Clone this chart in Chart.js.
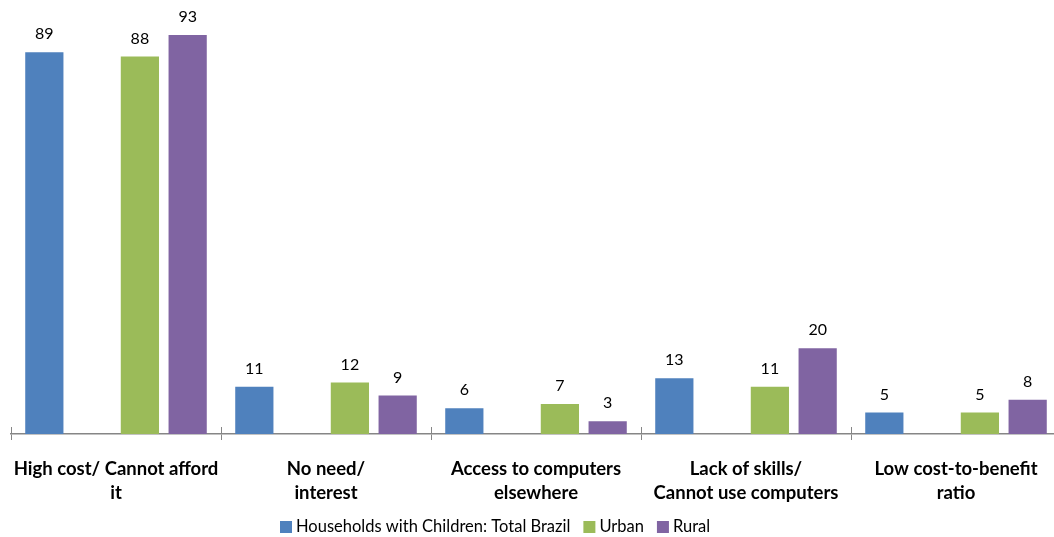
<!DOCTYPE html>
<html>
<head>
<meta charset="utf-8">
<script src="https://cdn.jsdelivr.net/npm/chart.js@4"></script>
<style>
  html, body { margin: 0; padding: 0; background: #fff; overflow: hidden; }
  #wrap { width: 1063px; height: 537px; }
</style>
</head>
<body>
<div id="wrap"><canvas id="grafico"></canvas></div>
<script>
// Categorías (etiquetas en dos líneas)
const categorias = [
    ["High cost/ Cannot afford", "it"],
    ["No need/", "interest"],
    ["Access to computers", "elsewhere"],
    ["Lack of skills/", "Cannot use computers"],
    ["Low cost-to-benefit", "ratio"]
];

// Valores por serie
const totalBrasil = [89, 11, 6, 13, 5];
const urbano = [88, 12, 7, 11, 5];
const rural = [93, 9, 3, 20, 8];

const fuente = "Lato, 'Open Sans', sans-serif";
const gris = '#868686';

// Plugin para escribir el valor encima de cada barra
const etiquetasValor = {
    id: 'etiquetasValor',
    afterDatasetsDraw(chart) {
        const ctx = chart.ctx;
        ctx.save();
        ctx.font = "16px " + fuente;
        ctx.fillStyle = '#000';
        ctx.textAlign = 'center';
        ctx.textBaseline = 'bottom';
        chart.data.datasets.forEach((ds, i) => {
            if (!ds.showValues) return;
            chart.getDatasetMeta(i).data.forEach((bar, j) => {
                ctx.fillText(ds.data[j], bar.x, bar.y - 10);
            });
        });
        ctx.restore();
    }
};

// Las marcas del eje X también sobresalen por encima de la línea
const marcasArriba = {
    id: 'marcasArriba',
    afterDraw(chart) {
        const x = chart.scales.x;
        const ctx = chart.ctx;
        const n = chart.data.labels.length;
        const paso = (x.right - x.left) / n;
        ctx.save();
        ctx.strokeStyle = gris;
        ctx.lineWidth = 1;
        for (let i = 0; i <= n; i++) {
            const px = Math.round(x.left + i * paso) + 0.5;
            ctx.beginPath();
            ctx.moveTo(px, x.top - 7);
            ctx.lineTo(px, x.top);
            ctx.stroke();
        }
        ctx.restore();
    }
};

// Leyenda dibujada a mano debajo de las etiquetas
const leyenda = {
    id: 'leyenda',
    afterDraw(chart) {
        const ctx = chart.ctx;
        ctx.save();
        ctx.font = "16.5px " + fuente;
        ctx.textBaseline = 'middle';
        ctx.textAlign = 'left';
        let x = 280;
        const y = 521;
        chart.data.datasets.forEach(ds => {
            if (!ds.label) return;
            ctx.fillStyle = ds.backgroundColor;
            ctx.fillRect(x, y, 12, 12);
            ctx.fillStyle = '#000';
            ctx.fillText(ds.label, x + 16, y + 6);
            x += 16 + ctx.measureText(ds.label).width + 13;
        });
        ctx.restore();
    }
};

new Chart(document.getElementById('grafico').getContext('2d'), {
    type: 'bar',
    data: {
        labels: categorias,
        datasets: [
            { label: 'Households with Children: Total Brazil', data: totalBrasil, backgroundColor: '#4F81BD', showValues: true },
            { label: '', data: [null, null, null, null, null], backgroundColor: 'rgba(0,0,0,0)' },
            { label: 'Urban', data: urbano, backgroundColor: '#9BBB59', showValues: true },
            { label: 'Rural', data: rural, backgroundColor: '#8064A2', showValues: true }
        ]
    },
    options: {
        responsive: true,
        maintainAspectRatio: false,
        animation: false,
        categoryPercentage: 0.91,
        barPercentage: 0.8,
        layout: { padding: { left: 11, right: 2, top: 5, bottom: 15 } },
        scales: {
            y: {
                display: false,
                min: 0,
                max: 100
            },
            x: {
                afterFit: (escala) => {
                    // sin margen extra por la primera etiqueta
                    escala.paddingLeft = 0;
                    escala.paddingRight = 0;
                },
                grid: {
                    offset: true,
                    drawOnChartArea: false,
                    drawTicks: true,
                    tickLength: 6,
                    color: gris
                },
                border: { color: gris, width: 1.5 },
                ticks: {
                    color: '#000',
                    padding: 17,
                    maxRotation: 0,
                    autoSkip: false,
                    font: { family: fuente, size: 18.5, weight: 'bold', lineHeight: '24px' }
                }
            }
        },
        plugins: {
            legend: { display: false },
            tooltip: { enabled: false }
        }
    },
    plugins: [etiquetasValor, marcasArriba, leyenda]
});
</script>
</body>
</html>
